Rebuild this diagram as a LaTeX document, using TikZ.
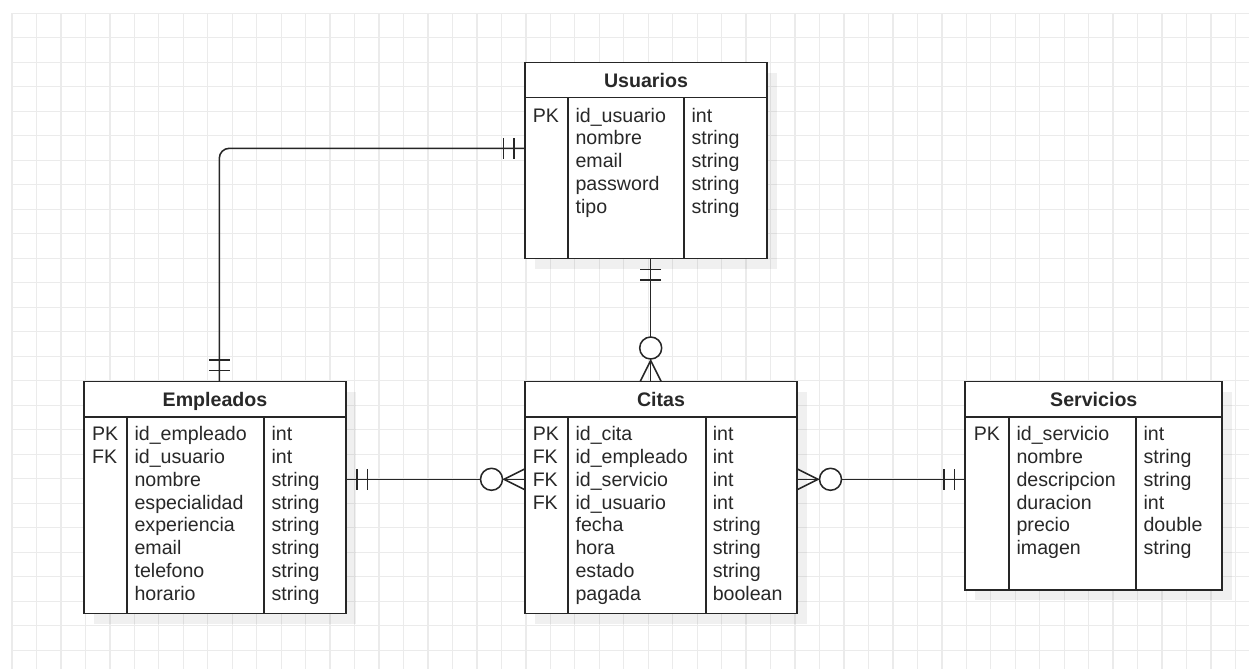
\documentclass[tikz,border=0pt]{standalone}
\usepackage{fontspec}
\setmainfont{Liberation Sans}
\usetikzlibrary{calc,fit}
\definecolor{gridc}{RGB}{235,235,235}
\definecolor{linec}{RGB}{38,38,38}
\definecolor{textc}{RGB}{40,40,40}
\tikzset{
  gridline/.style={draw=gridc, line width=1pt},
  ent/.style={draw=linec, line width=1.3pt, fill=white, rectangle, inner sep=0pt, outer sep=0pt},
  entline/.style={draw=linec, line width=1.3pt},
  shadowbox/.style={fill=black, opacity=0.06},
  conn/.style={draw=linec, line width=1.15pt},
  hdr/.style={inner sep=0pt, text=textc, font=\fontsize{14.7pt}{17.2pt}\selectfont\bfseries, anchor=base},
  cell/.style={inner sep=0pt, text=textc, font=\fontsize{14.7pt}{17.2pt}\selectfont, anchor=base west},
  mandone/.pic={\draw[conn] (11,-10.5)--(11,10.5) (21.5,-10.5)--(21.5,10.5);},
  zeromany/.pic={\draw[conn] (0,-10.5)--(21,0)--(0,10.5);
                 \draw[conn, fill=white] (33.5,0) circle[radius=8.25pt];}
}
\begin{document}
\begin{tikzpicture}[x=0.75pt,y=-0.75pt]
\useasboundingbox (0,0) rectangle (1249,669);
\fill[white] (0,0) rectangle (1249,669);
% grid
\foreach \i in {0,...,50} \draw[gridline] ({12+\i*24.47},13.3) -- ({12+\i*24.47},669);
\foreach \j in {0,...,26} \draw[gridline] (12,{13.3+\j*24.5}) -- (1249,{13.3+\j*24.5});

% shadows
\fill[shadowbox] (535,72.5) rectangle (777,268.5);
\fill[shadowbox] (94,391.5) rectangle (356,623.5);
\fill[shadowbox] (535,391.5) rectangle (807,623.5);
\fill[shadowbox] (975.3,391.5) rectangle (1232.3,600);

% tables
\node[ent, fit={(525,62.5)(767,258.5)}] (usuarios) {};
\draw[entline] (525,97.5) -- (767,97.5) (568.3,97.5) -- (568.3,258.5) (684,97.5) -- (684,258.5);
\node[hdr] (usuarios-h) at (646,87) {Usuarios};
\foreach \k/\n/\t [count=\i from 0] in {PK/id\_usuario/int, /nombre/string, /email/string, /password/string, /tipo/string}{
  \node[cell] (u-k\i) at (532.5,{122+\i*22.8}) {\k};
  \node[cell] (u-n\i) at (575.3,{122+\i*22.8}) {\n};
  \node[cell] (u-t\i) at (691.3,{122+\i*22.8}) {\t};
}

\node[ent, fit={(84,381.5)(346,613.5)}] (empleados) {};
\draw[entline] (84,416.7) -- (346,416.7) (127.3,416.7) -- (127.3,613.5) (264.3,416.7) -- (264.3,613.5);
\node[hdr] (empleados-h) at (215,406) {Empleados};
\foreach \k/\n/\t [count=\i from 0] in {PK/id\_empleado/int, FK/id\_usuario/int, /nombre/string, /especialidad/string, /experiencia/string, /email/string, /telefono/string, /horario/string}{
  \node[cell] (e-k\i) at (91.8,{440.3+\i*22.9}) {\k};
  \node[cell] (e-n\i) at (134.3,{440.3+\i*22.9}) {\n};
  \node[cell] (e-t\i) at (271.3,{440.3+\i*22.9}) {\t};
}

\node[ent, fit={(525,381.5)(797,613.5)}] (citas) {};
\draw[entline] (525,416.7) -- (797,416.7) (568.3,416.7) -- (568.3,613.5) (705.7,416.7) -- (705.7,613.5);
\node[hdr] (citas-h) at (661,406) {Citas};
\foreach \k/\n/\t [count=\i from 0] in {PK/id\_cita/int, FK/id\_empleado/int, FK/id\_servicio/int, FK/id\_usuario/int, /fecha/string, /hora/string, /estado/string, /pagada/boolean}{
  \node[cell] (c-k\i) at (532.5,{440.3+\i*22.9}) {\k};
  \node[cell] (c-n\i) at (575.3,{440.3+\i*22.9}) {\n};
  \node[cell] (c-t\i) at (712.5,{440.3+\i*22.9}) {\t};
}

\node[ent, fit={(965.3,381.5)(1222.3,590)}] (servicios) {};
\draw[entline] (965.3,416.7) -- (1222.3,416.7) (1009.3,416.7) -- (1009.3,590) (1136,416.7) -- (1136,590);
\node[hdr] (servicios-h) at (1093.8,406) {Servicios};
\foreach \k/\n/\t [count=\i from 0] in {PK/id\_servicio/int, /nombre/string, /descripcion/string, /duracion/int, /precio/double, /imagen/string}{
  \node[cell] (s-k\i) at (973.5,{440.3+\i*22.9}) {\k};
  \node[cell] (s-n\i) at (1016.3,{440.3+\i*22.9}) {\n};
  \node[cell] (s-t\i) at (1143.3,{440.3+\i*22.9}) {\t};
}

% connection points
\coordinate (p1a) at ($(usuarios.north west)+(0,85.8)$);
\coordinate (p1b) at ($(empleados.north west)+(135.3,0)$);
\coordinate (p2a) at ($(usuarios.south west)+(125.7,0)$);
\coordinate (p2b) at ($(citas.north west)+(125.7,0)$);
\coordinate (p3a) at ($(empleados.north east)+(0,97.8)$);
\coordinate (p3b) at ($(citas.north west)+(0,97.8)$);
\coordinate (p4a) at ($(citas.north east)+(0,97.8)$);
\coordinate (p4b) at ($(servicios.north west)+(0,97.8)$);

% connectors
\draw[conn, rounded corners=7.5pt] (p1a) -| (p1b);
\draw[conn] (p2a) -- (p2b);
\draw[conn] (p3a) -- (p3b);
\draw[conn] (p4a) -- (p4b);

% end marks
\pic[rotate=180] at (p1a) {mandone};
\pic[rotate=90] at (p1b) {mandone};
\pic[rotate=270] at (p2a) {mandone};
\pic[rotate=90] at (p2b) {zeromany};
\pic[rotate=0] at (p3a) {mandone};
\pic[rotate=180] at (p3b) {zeromany};
\pic[rotate=0] at (p4a) {zeromany};
\pic[rotate=180] at (p4b) {mandone};
\end{tikzpicture}
\end{document}
